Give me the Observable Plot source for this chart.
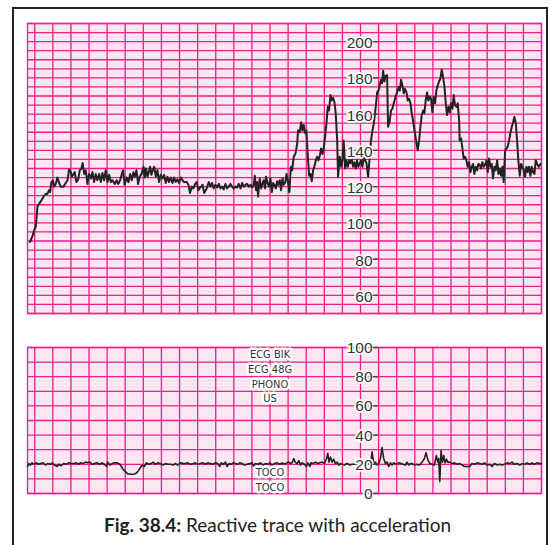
<!DOCTYPE html>
<html><head><meta charset="utf-8">
<script src="https://cdn.jsdelivr.net/npm/d3@7"></script>
<script src="https://cdn.jsdelivr.net/npm/@observablehq/plot@0.6"></script>
<style>
html,body{margin:0;padding:0;background:#fff}
body{width:550px;height:545px;overflow:hidden;position:relative}
#top,#bottom{position:absolute;left:0}
#top{top:0}
#bottom{top:330px}
#frame{position:absolute;left:12px;top:6.5px;width:532px;height:560px;border:2.5px solid #222;border-bottom:none;z-index:5;pointer-events:none}
#caption{position:absolute;left:0;width:555px;top:515px;text-align:center;font-family:Lato,"Open Sans",sans-serif;font-size:19px;line-height:19px;color:#222;z-index:6}
#caption b{font-weight:700}
</style>
</head><body>
<div id="top"></div>
<div id="bottom"></div>
<div id="frame"></div>
<div id="caption"><b>Fig. 38.4:</b> Reactive trace with acceleration</div>
<script>
// ---- data: time in minutes (one grid square = 1 min) ----
const fhrTicks = [60, 80, 100, 120, 140, 160, 180, 200];
const tocoTicks = [0, 20, 40, 60, 80, 100];
const channelNames = ["ECG BIK", "ECG 48G", "PHONO", "US"];
const tocoNames = ["TOCO", "TOCO"];

// fetal heart rate (bpm)
const fhrTrace = [
[-0.26,89.5],[-0.18,91.5],[-0.13,92.5],[-0.03,96],[0.06,98],[0.15,109],[0.24,110.5],[0.37,112.5],[0.52,115],[0.61,116],[0.70,116],[0.79,118],[0.85,117],[0.92,122.5],[1.00,123.5],[1.07,120],[1.16,121.5],[1.25,125],[1.35,122],[1.44,120],[1.59,120],[1.71,122],[1.81,123.5],[1.90,129.5],[1.99,128],[2.05,125.5],[2.14,127],[2.21,128],[2.30,122.5],[2.40,124],[2.49,129],[2.58,130],[2.65,133],[2.73,127],[2.82,129],[2.91,121.5],[3.00,127],[3.10,124.5],[3.19,128],[3.28,122.5],[3.37,127],[3.46,123.5],[3.56,127],[3.65,122.5],[3.74,127.5],[3.83,123.5],[3.92,129],[4.02,122.5],[4.11,126.5],[4.20,122.5],[4.29,123.5],[4.42,121.5],[4.53,123.5],[4.61,121.5],[4.72,123.5],[4.81,127],[4.88,129],[4.97,121],[5.08,125],[5.18,122.5],[5.27,127],[5.36,123.5],[5.45,128],[5.53,125.5],[5.62,129],[5.71,121.5],[5.80,125.5],[5.90,127],[6.01,131],[6.08,125],[6.15,130],[6.23,125.5],[6.30,128],[6.37,131],[6.45,126.5],[6.52,129],[6.60,131],[6.69,125.5],[6.78,129],[6.87,122.5],[6.96,126.5],[7.06,124.5],[7.15,126.5],[7.24,122],[7.33,125.5],[7.42,122.5],[7.52,125],[7.61,122],[7.70,125],[7.79,122.5],[7.88,124],[7.98,122],[8.07,125],[8.16,123.5],[8.25,122.5],[8.40,122.5],[8.49,121],[8.58,116.5],[8.68,120],[8.77,119],[8.86,121.5],[8.95,122.5],[9.04,118],[9.14,119.5],[9.27,121],[9.36,116.5],[9.50,119],
[9.62,122.5],[9.71,120],[9.80,122],[9.89,119],[9.98,121],[10.08,119.5],[10.17,121.5],[10.26,119],[10.35,120],[10.44,118.5],[10.54,121.5],[10.63,119],[10.72,120],[10.81,121.5],[10.90,120],[11.00,119],[11.09,120],[11.18,119.5],[11.27,121.5],[11.37,119],[11.46,122],[11.55,120],[11.64,121],[11.73,121.5],[11.83,120],[11.92,121],[12.01,119.5],[12.10,121],[12.16,126],[12.23,118],[12.29,122.5],[12.34,114.5],[12.43,124.5],[12.51,119],[12.58,121.5],[12.65,123.5],[12.73,119],[12.78,125.5],[12.88,121.5],[12.95,120],[13.02,124.5],[13.10,117],[13.17,122],[13.24,121],[13.32,119],[13.39,123],[13.45,121],[13.54,123.5],[13.61,118],[13.69,124.5],[13.76,121],[13.85,122.5],[13.91,127],[13.98,123.5],[14.07,117],[14.15,131],[14.22,129],[14.31,136.5],[14.40,138],[14.50,143.5],[14.55,151],[14.64,150],[14.72,155.5],[14.79,151],[14.86,154],[14.94,149.5],[15.01,151],[15.09,136.5],[15.16,126],[15.23,127],[15.31,123],[15.38,129],[15.45,131],[15.53,134.5],[15.60,136.5],[15.67,134.5],[15.75,137],[15.82,141],[15.90,138],[15.97,141.5],[16.04,147.5],[16.12,155],[16.19,164],[16.26,162],[16.34,170.5],[16.41,167.5],[16.49,169],[16.56,166.5],[16.63,160.5],[16.71,145.5],[16.76,125.5],[16.85,136.5],[16.93,131],[17.00,134.5],[17.07,145.5],[17.15,130],[17.22,134.5],[17.30,131],[17.37,134.5],[17.44,133],[17.52,135],[17.59,131],[17.66,133.5],[17.74,130],[17.81,134.5],[17.88,131],[17.96,133],[18.03,134.5],[18.11,131],[18.18,136.5],[18.25,134.5],[18.33,133],[18.42,125.5],[18.51,136.5],[18.58,145.5],[18.66,151],[18.73,154.5],[18.82,162],
[18.92,172],[19.01,173.5],[19.06,176],[19.14,179],[19.19,177],[19.25,184],[19.32,178],[19.38,181],[19.47,181.5],[19.52,153],[19.60,155.5],[19.69,162],[19.76,163],[19.84,166],[19.93,169.5],[20.02,172],[20.11,175],[20.17,173],[20.24,179],[20.31,176],[20.39,171.5],[20.46,174],[20.54,172],[20.61,167.5],[20.68,168.5],[20.76,166],[20.83,160.5],[20.90,156.5],[20.98,151],[21.07,145.5],[21.16,140],[21.24,145.5],[21.31,153],[21.38,159.5],[21.46,162],[21.53,160.5],[21.60,167.5],[21.68,172],[21.75,167.5],[21.83,169.5],[21.90,168.5],[21.97,161],[22.05,169.5],[22.12,166],[22.19,173],[22.27,176],[22.34,178],[22.41,179.5],[22.49,184.5],[22.56,180.5],[22.64,175],[22.71,166],[22.78,159.5],[22.86,164],[22.93,161],[23.00,166],[23.08,163],[23.15,170.5],[23.22,165],[23.30,164],[23.37,166],[23.45,156.5],[23.48,145.5],[23.56,146.5],[23.63,141],[23.70,135.5],[23.78,136.5],[23.85,134.5],[23.92,131],[24.00,133.5],[24.07,128],[24.15,131],[24.22,132.5],[24.29,127],[24.37,131],[24.44,129],[24.51,132.5],[24.59,132],[24.66,130],[24.73,133.5],[24.81,131],[24.88,132],[24.96,134.5],[25.03,128],[25.10,135.5],[25.18,131],[25.25,132.5],[25.32,124.5],[25.40,131],[25.47,129],[25.55,134.5],[25.62,127],[25.69,130],[25.77,126],[25.84,131],[25.91,122.5],[25.99,140],[26.06,141],[26.13,142],[26.21,145.5],[26.28,149.5],[26.36,153],[26.43,155.5],[26.50,158.5],[26.58,155],[26.65,145.5],[26.72,134.5],[26.80,126],[26.87,132.5],[26.94,131],[27.02,129],[27.09,125.5],[27.17,131],[27.24,128],[27.31,131],[27.39,126],[27.46,131],[27.53,128],[27.61,127],[27.68,134.5],[27.76,132.5],[27.85,131],[27.94,132.5]
];

// uterine activity (toco units)
const tocoTrace = [
[-0.40,18.5],[-0.33,20.5],[-0.24,19.5],[-0.15,21],[-0.05,20],[0.09,21],[0.22,20],[0.32,20.5],[0.46,21],[0.59,19.5],[0.72,20.5],[0.87,20],[0.96,21],[1.09,19.5],[1.24,18.5],[1.33,20],[1.46,19],[1.60,20.5],[1.73,20],[1.88,21],[2.01,20.5],[2.16,20.5],[2.30,21],[2.43,20],[2.52,21],[2.67,20.5],[2.80,21.5],[2.93,21],[3.04,21.5],[3.17,20],[3.30,20.5],[3.45,21],[3.59,20],[3.72,21],[3.85,20],[3.96,18.5],[4.03,21.5],[4.15,19.5],[4.27,20.5],[4.40,21],[4.55,21],[4.70,20],[4.79,18.5],[4.88,16.5],[5.01,15],[5.14,13.5],[5.29,13.2],[5.43,13.2],[5.56,13.5],[5.69,15],[5.80,17],[5.93,19.5],[6.06,18.5],[6.17,21],[6.30,20],[6.43,20.5],[6.54,21.5],[6.67,20],[6.80,21],[6.94,20.5],[7.09,19.5],[7.22,20.5],[7.35,20],[7.50,20],[7.64,19.5],[7.77,20.5],[7.90,19.5],[8.05,21],[8.20,20.5],[8.33,20.5],[8.45,21],[8.60,20],[8.75,20.5],[8.88,21],[9.01,20],[9.15,20.5],
[9.30,21],[9.43,20],[9.56,21],[9.71,20.5],[9.85,20],[9.98,21],[10.11,20.5],[10.22,18.5],[10.30,21],[10.41,20],[10.54,21.5],[10.63,18.5],[10.74,20.5],[10.85,20],[10.96,21],[11.09,20.5],[11.22,20],[11.33,21],[11.46,20.5],[11.59,19.5],[11.73,20],[11.88,20.5],[12.01,21],[12.10,18.5],[12.19,20.5],[12.32,20],[12.47,21],[12.62,19.5],[12.75,20.5],[12.88,20],[12.99,21],[13.11,19.5],[13.24,20.5],[13.39,21],[13.54,20],[13.67,21],[13.80,20],[13.94,21],[14.04,21.5],[14.13,20.5],[14.22,21],[14.31,24],[14.39,21.5],[14.50,20.5],[14.59,22.5],[14.68,19.5],[14.77,21],[14.90,20],[15.01,18.5],[15.09,21],[15.20,18.5],[15.27,21],[15.38,20.5],[15.51,21.5],[15.64,20.5],[15.75,21],[15.88,21.5],[16.01,20.5],[16.12,24],[16.19,27.5],[16.26,21.5],[16.34,25],[16.43,21.5],[16.52,23.5],[16.61,20.5],[16.71,21.5],[16.80,19.5],[16.89,20.5],[16.98,20],[17.11,19.5],[17.26,20.5],[17.41,19.5],[17.53,20],[17.66,20],[17.81,20.5],[17.99,20],[18.18,20.5],[18.36,20.5],[18.46,20],
[18.55,19.5],[18.64,28.5],[18.73,20.5],[18.82,21.5],[18.92,19.5],[19.01,20.5],[19.10,24],[19.19,31.5],[19.28,24],[19.38,20.5],[19.47,21.5],[19.56,18.5],[19.65,21],[19.74,19.5],[19.84,21],[19.98,20],[20.11,21],[20.24,20.5],[20.35,20],[20.48,19.5],[20.57,21.5],[20.67,19.5],[20.76,20.5],[20.85,20.5],[20.98,19.5],[21.09,20],[21.22,19.5],[21.31,20],[21.40,21.5],[21.53,24],[21.62,28],[21.72,23],[21.83,20.5],[21.95,20],[22.08,19.5],[22.19,26],[22.27,21.5],[22.32,24],[22.38,8],[22.45,29.5],[22.53,21.5],[22.60,26],[22.67,21],[22.75,23.5],[22.82,21.5],[22.93,21.5],[23.06,20.5],[23.19,21],[23.34,20],[23.48,20.5],[23.61,19.5],[23.74,18.5],[23.89,18.5],[24.04,18.5],[24.16,20.5],[24.29,20],[24.44,21],[24.59,20.5],[24.72,20],[24.85,21],[25.00,19.5],[25.14,20],[25.27,18.5],[25.40,20.5],[25.55,19.5],[25.69,20],[25.82,19.5],[25.95,20],[26.10,21],[26.25,20.5],[26.37,21.5],[26.50,20],[26.65,20.5],[26.80,19.5],[26.93,20.5],[27.06,20],[27.20,21],[27.35,20],[27.48,21],[27.61,20],[27.76,21],[27.90,20.5],[28.00,20.5]
];

// ---- styling ----
const paper = "#fce6ef";
const grid = "#ee1d8c";
const ink = "#222";
const labelFont = '"Liberation Sans", Arial, sans-serif';
const narrowFont = '"Liberation Sans Narrow", "DejaVu Sans Condensed", sans-serif';
const xDomain = [-0.4, 28];
const minuteLines = d3.range(0, 29);
const labelMinute = 19;
const chanMinute = 13;

const topChart = Plot.plot({
  width: 550, height: 320,
  marginLeft: 27, marginRight: 9, marginTop: 23, marginBottom: 7,
  style: {background: "transparent", fontFamily: labelFont},
  x: {domain: xDomain, axis: null},
  y: {domain: [50, 210], axis: null},
  marks: [
    Plot.frame({fill: paper, stroke: null}),
    Plot.ruleX(minuteLines, {stroke: grid, strokeWidth: 1.3}),
    Plot.ruleY(d3.range(50, 211, 5), {stroke: grid, strokeWidth: 1.3}),
    Plot.frame({stroke: grid, strokeWidth: 1.3}),
    Plot.line(fhrTrace, {x: d => d[0], y: d => d[1], stroke: ink, strokeWidth: 2}),
    Plot.text(fhrTicks, {x: labelMinute, y: d => d, dx: -6, dy: 1.5, textAnchor: "end", text: d => String(d), fontSize: 15.5, fill: "#333", stroke: "white", strokeWidth: 3.5}),
    Plot.ruleY(fhrTicks, {x1: labelMinute - 0.3, x2: labelMinute, stroke: "#444", strokeWidth: 1.3})
  ]
});
document.getElementById("top").append(topChart);

const bottomChart = Plot.plot({
  width: 550, height: 182,
  marginLeft: 27, marginRight: 9, marginTop: 17, marginBottom: 19,
  style: {background: "transparent", fontFamily: labelFont},
  x: {domain: xDomain, axis: null},
  y: {domain: [0, 100], axis: null},
  marks: [
    Plot.frame({fill: paper, stroke: null}),
    Plot.ruleX(minuteLines, {stroke: grid, strokeWidth: 1.3}),
    Plot.ruleY(d3.range(0, 101, 10), {stroke: grid, strokeWidth: 1.3}),
    Plot.frame({stroke: grid, strokeWidth: 1.3}),
    Plot.line(tocoTrace, {x: d => d[0], y: d => d[1], stroke: ink, strokeWidth: 1.6}),
    Plot.text(channelNames, {x: chanMinute, y: (d, i) => 95 - 10 * i, text: d => d, fontSize: 11, fontFamily: narrowFont, fill: "#333", stroke: "white", strokeWidth: 5}),
    Plot.text(tocoNames, {x: chanMinute, y: (d, i) => 15 - 10 * i, dy: 1, text: d => d, fontSize: 11, fontFamily: narrowFont, fill: "#333", stroke: "white", strokeWidth: 5}),
    Plot.text(tocoTicks, {x: labelMinute, y: d => d, dx: -6, dy: 0.5, textAnchor: "end", text: d => String(d), fontSize: 15.5, fill: "#333", stroke: "white", strokeWidth: 3.5}),
    Plot.ruleY(tocoTicks, {x1: labelMinute - 0.3, x2: labelMinute, stroke: "#444", strokeWidth: 1.3})
  ]
});
document.getElementById("bottom").append(bottomChart);
</script>
</body></html>
